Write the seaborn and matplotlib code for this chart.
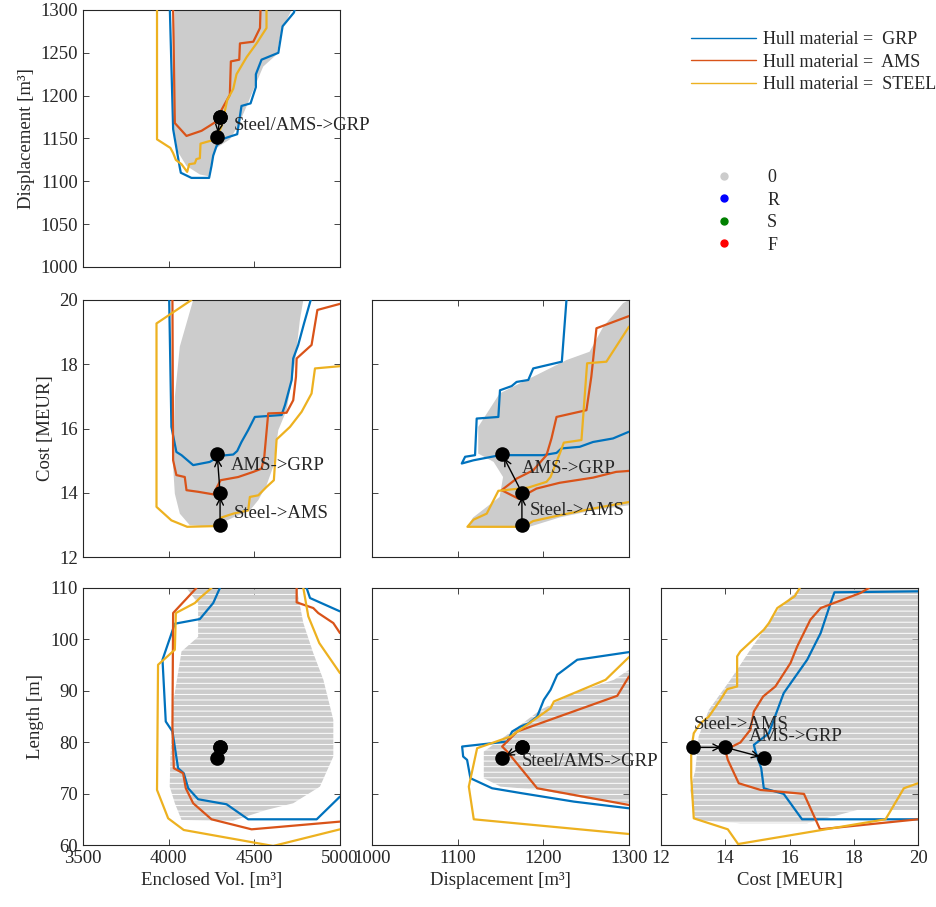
import pandas as pd
import matplotlib
matplotlib.use('Agg')
import matplotlib.pyplot as plt
from matplotlib.lines import Line2D
import seaborn as sns

# ---- designs (Steel, AMS, GRP) ----
design_names = ['Steel', 'AMS', 'GRP']
design_vol = [4300, 4300, 4283]
design_disp = [1175, 1175, 1152]
design_cost = [13.0, 14.0, 15.2]
design_len = [79, 79, 77]

# ---- Displacement vs Enclosed volume ----
vd_cloud = [(4036, 1300), (4026, 1234), (4030, 1161), (4055, 1134), (4104, 1118), (4182, 1108),
            (4231, 1106), (4250, 1122), (4279, 1139), (4357, 1149), (4406, 1165), (4464, 1192),
            (4503, 1211), (4552, 1234), (4630, 1248), (4659, 1277), (4718, 1300)]
vd_grp = [(4007, 1300), (4026, 1161), (4065, 1116), (4071, 1110), (4133, 1104), (4236, 1104),
          (4250, 1118), (4260, 1130), (4279, 1141), (4308, 1149), (4400, 1155), (4425, 1188),
          (4478, 1191), (4509, 1210), (4509, 1225), (4542, 1242), (4640, 1250), (4665, 1281),
          (4731, 1297), (4735, 1300)]
vd_ams = [(4026, 1300), (4036, 1168), (4104, 1153), (4192, 1159), (4240, 1165), (4279, 1170),
          (4299, 1180), (4357, 1201), (4363, 1240), (4412, 1242), (4416, 1261), (4494, 1263),
          (4533, 1279), (4536, 1300)]
vd_steel = [(3932, 1300), (3932, 1149), (4010, 1139), (4026, 1133), (4042, 1125), (4075, 1120),
            (4108, 1111), (4120, 1120), (4153, 1121), (4162, 1126), (4182, 1127), (4186, 1144),
            (4221, 1146), (4275, 1149), (4308, 1164), (4342, 1195), (4377, 1208), (4396, 1225),
            (4455, 1245), (4513, 1261), (4571, 1279), (4571, 1300)]

# ---- Cost vs Enclosed volume ----
vc_cloud = [(4143, 20), (4065, 18.55), (4036, 16.99), (4026, 14.81), (4036, 13.97), (4065, 13.35),
            (4123, 12.99), (4260, 12.94), (4377, 13.23), (4474, 13.45), (4523, 13.77), (4571, 14.23),
            (4610, 14.81), (4640, 15.95), (4688, 16.57), (4737, 18.03), (4766, 19.38), (4786, 20)]
vc_grp = [(4003, 20), (4016, 16.05), (4045, 15.27), (4075, 15.17), (4143, 14.86), (4240, 14.96),
          (4299, 15.15), (4377, 15.19), (4400, 15.30), (4425, 15.58), (4464, 15.95), (4503, 16.36),
          (4659, 16.42), (4679, 16.73), (4718, 17.51), (4727, 18.18), (4756, 18.60), (4790, 19.27),
          (4829, 20)]
vc_ams = [(4022, 20), (4026, 15.01), (4045, 14.55), (4094, 14.49), (4104, 14.08), (4172, 14.03),
          (4260, 13.95), (4303, 14.39), (4406, 14.49), (4494, 14.65), (4542, 14.75), (4558, 15.12),
          (4581, 16.47), (4688, 16.49), (4727, 16.88), (4743, 17.61), (4747, 18.18), (4834, 18.60),
          (4868, 19.69), (5000, 19.88)]
vc_steel = [(4133, 20), (3929, 19.27), (3929, 13.56), (4016, 13.14), (4108, 12.94), (4260, 12.96),
            (4308, 13.23), (4377, 13.35), (4464, 13.45), (4474, 13.87), (4523, 13.92), (4571, 14.18),
            (4614, 14.39), (4630, 15.66), (4708, 16.05), (4776, 16.52), (4834, 17.09), (4854, 17.87),
            (5000, 17.94)]

# ---- Cost vs Displacement ----
dc_cloud = [(1111, 12.94), (1118, 13.23), (1149, 13.87), (1153, 14.49), (1142, 14.96), (1124, 15.22),
            (1124, 16.05), (1149, 17.09), (1188, 17.61), (1227, 18.13), (1254, 18.39), (1270, 19.17),
            (1293, 19.9), (1300, 20), (1300, 13.61), (1258, 13.45), (1219, 13.23), (1180, 12.91)]
dc_grp = [(1227, 20), (1221.6, 18.08), (1188.2, 17.87), (1182.4, 17.51), (1168.8, 17.45),
          (1163, 17.32), (1149.4, 17.19), (1147.5, 16.36), (1122.2, 16.31), (1120.3, 15.17),
          (1108.7, 15.12), (1104.8, 14.91), (1118.4, 15.01), (1149.4, 15.17), (1199.8, 15.17),
          (1215.4, 15.24), (1221.2, 15.38), (1242.5, 15.43), (1258, 15.58), (1281.3, 15.69),
          (1300, 15.9)]
dc_ams = [(1300, 19.5), (1262, 19.12), (1256, 17.61), (1250.3, 16.57), (1215.4, 16.36),
          (1209.5, 15.69), (1203.7, 15.17), (1188.2, 14.7), (1168.8, 14.44), (1151.3, 14.08),
          (1170.7, 13.82), (1192, 14.13), (1219, 14.31), (1258, 14.47), (1285, 14.65), (1300, 14.68)]
dc_steel = [(1300, 19.17), (1273.6, 18.08), (1251.1, 18.03), (1244.5, 15.64), (1223.9, 15.56),
            (1219.2, 15.22), (1208.4, 14.49), (1203.7, 14.34), (1182.4, 14.16), (1147.5, 14.06),
            (1133.9, 13.35), (1118.4, 13.16), (1111.4, 12.94), (1176.6, 12.94), (1188.2, 13.12),
            (1219.2, 13.3), (1258, 13.51), (1300, 13.71)]

# ---- Length vs Enclosed volume ----
vl_cloud = [(4104, 110), (4172, 107), (4172, 100.5), (4075, 97.66), (4026, 87.6), (4010, 77.21),
            (4006, 71.36), (4036, 68.12), (4075, 64.87), (4377, 64.74), (4571, 66.82), (4727, 68.12),
            (4883, 71.36), (4961, 77.21), (4961, 84.35), (4903, 92.14), (4844, 97.34), (4786, 103.18),
            (4747, 110)]
vl_grp = [(4299, 110), (4260, 107.08), (4182, 103.96), (4036, 103.05), (3964, 96.04), (3983, 84.03),
          (4022, 82.08), (4055, 74.94), (4088, 73.96), (4114, 71.04), (4172, 68.9), (4338, 67.92),
          (4464, 65), (4864, 65), (5000, 69.42)]
vl_grp_b = [(4805, 110), (4825, 108.05), (5000, 105.45)]
vl_ams = [(4162, 110), (4026, 105.13), (4022, 83.05), (4030, 74.94), (4084, 73.96), (4100, 71.04),
          (4143, 68.12), (4250, 65), (4484, 63.05), (5000, 64.55)]
vl_ams_b = [(4747, 110), (4747, 107.21), (4844, 106.1), (4873, 105.13), (4961, 103.18), (5000, 101.23)]
vl_steel = [(4250, 110), (4182, 108.05), (4153, 107.08), (4042, 105.13), (4036, 97.99), (3938, 95.06),
            (3932, 70.71), (3997, 65.19), (4088, 62.92), (4610, 59.81), (5000, 63.05)]
vl_steel_b = [(4786, 110), (4815, 104.48), (4879, 99.29), (5000, 93.44)]

# ---- Length vs Displacement ----
dl_cloud = [(1130.5, 78.18), (1165.6, 82.4), (1196.7, 86.3), (1235.7, 89.55), (1282.4, 92.14),
            (1300, 94.09), (1300, 68.12), (1259, 68.77), (1196.7, 70.71), (1150, 71.36), (1130.5, 72.99)]
dl_grp = [(1300, 97.53), (1239.6, 96.04), (1216.2, 93.12), (1208.4, 90.19), (1200.6, 88.25),
          (1192.8, 85), (1183.1, 83.7), (1173.4, 83.05), (1163.6, 82.08), (1157.8, 80.13),
          (1105.2, 79.16), (1106.4, 77.21), (1111, 76.56), (1114.9, 72.99), (1140.2, 71.04),
          (1175.3, 70.06), (1235.7, 68.44), (1300, 67.14)]
dl_ams = [(1300, 92.79), (1286.3, 89.03), (1169.5, 82.08), (1151.9, 79.16), (1157.8, 78.18),
          (1192.8, 71.04), (1300, 67.79)]
dl_steel = [(1300, 96.56), (1272.7, 92.14), (1212.3, 87.92), (1208.4, 86.62), (1161.7, 81.1),
            (1122.7, 78.83), (1113, 71.36), (1118.8, 65), (1300, 62.14)]

# ---- Length vs Cost ----
cl_cloud = [(16.34, 110), (15.72, 106.43), (14.78, 97.99), (14.16, 92.14), (13.49, 86.3), (13.17, 81.1),
            (13.07, 74.61), (12.91, 70.71), (13.07, 64.87), (14.47, 64.22), (16.55, 64.22),
            (18.11, 66.82), (20, 66.82), (20, 110)]
cl_grp = [(20, 109.35), (17.4, 109.16), (17.28, 107.08), (16.97, 101.23), (16.55, 96.04),
          (15.82, 89.55), (15.51, 84.35), (15.36, 81.75), (14.89, 79.48), (14.94, 78.18),
          (15.12, 74.94), (15.2, 71.04), (15.82, 69.94), (16.39, 65), (20, 65)]
cl_ams = [(18.47, 110), (18.21, 109.03), (16.97, 106.1), (16.65, 103.83), (16.24, 98.64),
          (16.03, 95.39), (15.56, 90.84), (15.18, 88.9), (14.89, 85.97), (14.78, 82.4), (14.47, 79.94),
          (14.0, 78.51), (14.08, 76.56), (14.42, 72.01), (15.1, 70.71), (16.45, 69.94), (16.95, 63.05),
          (20, 65)]
cl_steel = [(16.32, 110), (16.16, 108.38), (15.62, 106.1), (15.36, 103.18), (15.2, 101.88),
            (14.47, 97.66), (14.37, 96.69), (14.37, 90.84), (14.06, 90.32), (13.85, 88.25),
            (13.49, 85), (13.23, 83.7), (13.02, 81.75), (12.94, 78.51), (12.94, 73.31), (13.02, 65.19),
            (14.08, 63.05), (14.4, 60.19), (18.99, 65), (19.56, 71.04), (20, 72.01)]

# annotation texts next to the transitions
vd_notes = [('Steel/AMS->GRP', 4377, 1165)]
vc_notes = [('AMS->GRP', 4361, 14.86), ('Steel->AMS', 4377, 13.35)]
dc_notes = [('AMS->GRP', 1175, 14.75), ('Steel->AMS', 1184, 13.45)]
dl_notes = [('Steel/AMS->GRP', 1175, 76.2)]
cl_notes = [('Steel->AMS', 13.02, 83.4), ('AMS->GRP', 14.73, 81.1)]

GRP_C, AMS_C, STEEL_C = '#0072BD', '#D95319', '#EDB120'
CLOUD_C = '#cccccc'

sns.set_style('ticks')
plt.rcParams['font.family'] = ['Liberation Serif', 'DejaVu Serif']
plt.rcParams['font.size'] = 13
plt.rcParams['hatch.linewidth'] = 3.3

fig = plt.figure(figsize=(9.36, 9.07), dpi=100)

lims = {'vol': (3500, 5000), 'disp': (1000, 1300), 'cost': (12, 20), 'len': (60, 110)}
xticks = {'vol': [3500, 4000, 4500, 5000], 'disp': [1000, 1100, 1200, 1300],
          'cost': [12, 14, 16, 18, 20], 'len': [60, 70, 80, 90, 100, 110]}
yticks = dict(xticks, disp=[1000, 1050, 1100, 1150, 1200, 1250, 1300])
labels = {'vol': 'Enclosed Vol. [m³]', 'disp': 'Displacement [m³]',
          'cost': 'Cost [MEUR]', 'len': 'Length [m]'}
dvals = {'vol': design_vol, 'disp': design_disp, 'cost': design_cost, 'len': design_len}

col_left = [83, 372, 661]
row_top = [10, 300, 588]
W, H = 936, 907

panels = [
    (0, 0, 'vol', 'disp', vd_cloud, [vd_grp], [vd_ams], [vd_steel], vd_notes, False, True),
    (1, 0, 'vol', 'cost', vc_cloud, [vc_grp], [vc_ams], [vc_steel], vc_notes, False, True),
    (1, 1, 'disp', 'cost', dc_cloud, [dc_grp], [dc_ams], [dc_steel], dc_notes, False, True),
    (2, 0, 'vol', 'len', vl_cloud, [vl_grp, vl_grp_b], [vl_ams, vl_ams_b], [vl_steel, vl_steel_b], [], True, False),
    (2, 1, 'disp', 'len', dl_cloud, [dl_grp], [dl_ams], [dl_steel], dl_notes, True, True),
    (2, 2, 'cost', 'len', cl_cloud, [cl_grp], [cl_ams], [cl_steel], cl_notes, True, True),
]


def draw_hull(ax, pts, color):
    df = pd.DataFrame(pts, columns=['x', 'y'])
    sns.lineplot(data=df, x='x', y='y', sort=False, estimator=None,
                 color=color, lw=1.6, ax=ax, zorder=3)


for row, col, xv, yv, cloud, grp, ams, steel, notes, striped, arrows in panels:
    ax = fig.add_axes([col_left[col] / W, 1 - (row_top[row] + 257) / H, 257 / W, 257 / H])
    cx, cy = zip(*cloud)
    if striped:
        # length only takes whole-metre values, so the points line up in rows
        ax.fill(cx, cy, facecolor='none', edgecolor=CLOUD_C, hatch='---', lw=0, zorder=1)
    else:
        ax.fill(cx, cy, color=CLOUD_C, lw=0, zorder=1)
    for pieces, c in [(grp, GRP_C), (ams, AMS_C), (steel, STEEL_C)]:
        for p in pieces:
            draw_hull(ax, p, c)

    xs, ys = dvals[xv], dvals[yv]
    sns.scatterplot(x=xs, y=ys, color='black', s=110, linewidth=0, ax=ax, zorder=5)
    if arrows:
        for i in range(len(xs) - 1):
            if (xs[i], ys[i]) != (xs[i + 1], ys[i + 1]):
                ax.annotate('', xy=(xs[i + 1], ys[i + 1]), xytext=(xs[i], ys[i]),
                            arrowprops=dict(arrowstyle='->', color='black', lw=1,
                                            shrinkA=0, shrinkB=3, mutation_scale=12),
                            zorder=6)
    for txt, tx, ty in notes:
        ax.text(tx, ty, txt, ha='left', va='center', fontsize=13.5, zorder=7)

    ax.set_xlim(*lims[xv])
    ax.set_ylim(*lims[yv])
    ax.set_xticks(xticks[xv])
    ax.set_yticks(yticks[yv])
    ax.tick_params(direction='in', top=True, right=True, length=4, width=0.6, labelsize=13.5)
    for s in ax.spines.values():
        s.set_linewidth(0.8)
    if row == 2:
        ax.set_xlabel(labels[xv], fontsize=13.5)
    else:
        ax.set_xlabel('')
        ax.set_xticklabels([])
    if col == 0:
        ax.set_ylabel(labels[yv], fontsize=13.5)
    else:
        ax.set_ylabel('')
        ax.set_yticklabels([])

# legends
hull_handles = [Line2D([], [], color=c, lw=1) for c in (GRP_C, AMS_C, STEEL_C)]
fig.legend(hull_handles, ['Hull material =  GRP', 'Hull material =  AMS', 'Hull material =  STEEL'],
           loc='upper left', bbox_to_anchor=(675 / W, 1 - 15 / H), frameon=False,
           handlelength=3.6, handletextpad=0.4, labelspacing=0.3, fontsize=13)
dot_handles = [Line2D([], [], color=c, marker='o', ls='none', markersize=5)
               for c in (CLOUD_C, '#0000ff', '#008000', '#ff0000')]
fig.legend(dot_handles, ['0', 'R', 'S', 'F'], loc='upper left',
           bbox_to_anchor=(675 / W, 1 - 153 / H), frameon=False,
           handlelength=3.6, handletextpad=0.6, labelspacing=0.3, fontsize=13)

fig.savefig('out.png', dpi=100)
